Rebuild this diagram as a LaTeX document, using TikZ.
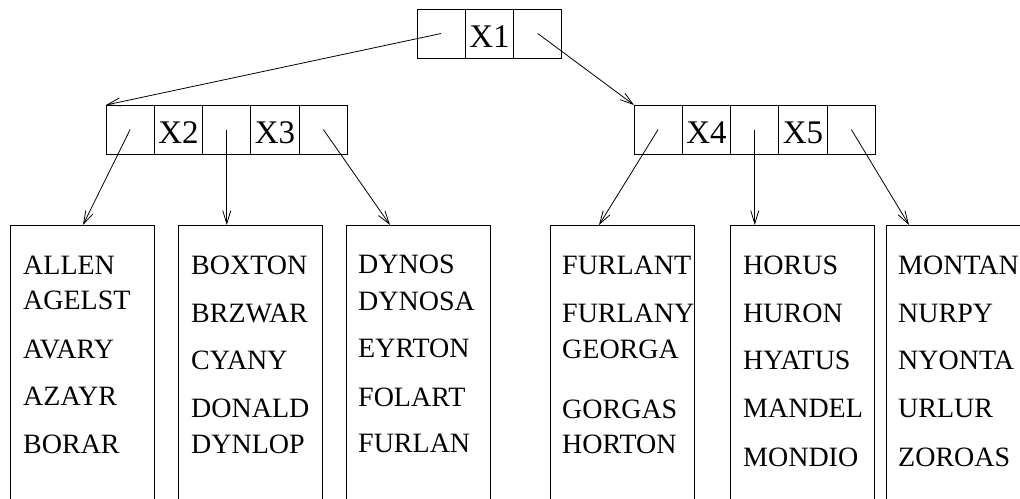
\documentclass[tikz,border=0pt]{standalone}
\usepackage{fontspec}
\setmainfont{Liberation Serif}
\usetikzlibrary{arrows.meta,calc}
\begin{document}
\begin{tikzpicture}[x=1pt,y=-1pt,
  cell/.style={draw,line width=0.9pt,minimum width=48.3pt,minimum height=49pt,
    inner sep=0pt,outer sep=0pt,anchor=north west,text height=27pt,text depth=0pt,
    font=\fontsize{33}{33}\selectfont},
  leaf/.style={draw,line width=0.9pt,minimum width=144pt,minimum height=300pt,
    inner sep=0pt,outer sep=0pt,anchor=north west},
  key/.style={anchor=base west,inner sep=0pt,font=\fontsize{28}{28}\selectfont},
  link/.style={line width=0.8pt,-{Straight Barb[length=13pt,width=8pt]}}]
\useasboundingbox (0,0) rectangle (1020,498);
\clip (0,0) rectangle (1020,498);

% root node
\node[cell] (t1) at (417,9) {};
\node[cell] (t2) at (465.3,9) {X1};
\node[cell] (t3) at (513.6,9) {};

% left inner node
\node[cell] (a1) at (106,105) {};
\node[cell] (a2) at (154.3,105) {X2};
\node[cell] (a3) at (202.6,105) {};
\node[cell] (a4) at (250.9,105) {X3};
\node[cell] (a5) at (299.2,105) {};

% right inner node
\node[cell] (b1) at (634,105) {};
\node[cell] (b2) at (682.3,105) {X4};
\node[cell] (b3) at (730.6,105) {};
\node[cell] (b4) at (778.9,105) {X5};
\node[cell] (b5) at (827.2,105) {};

% leaves
\node[leaf] (l1) at (10,225) {};
\node[leaf] (l2) at (178,225) {};
\node[leaf] (l3) at (346,225) {};
\node[leaf] (l4) at (550,225) {};
\node[leaf] (l5) at (730,225) {};
\node[leaf] (l6) at (886,225) {};

% keys in the leaves
\node[key] (k11) at (23,274) {ALLEN};
\node[key] (k12) at (23,309) {AGELST};
\node[key] (k13) at (23,358) {AVARY};
\node[key] (k14) at (23,405) {AZAYR};
\node[key] (k15) at (23,453) {BORAR};

\node[key] (k21) at (191,274) {BOXTON};
\node[key] (k22) at (191,322) {BRZWAR};
\node[key] (k23) at (191,369) {CYANY};
\node[key] (k24) at (191,417) {DONALD};
\node[key] (k25) at (191,453) {DYNLOP};

\node[key] (k31) at (358,273) {DYNOS};
\node[key] (k32) at (358,310) {DYNOSA};
\node[key] (k33) at (358,357) {EYRTON};
\node[key] (k34) at (358,406) {FOLART};
\node[key] (k35) at (358,452) {FURLAN};

\node[key] (k41) at (562,274) {FURLANT};
\node[key] (k42) at (562,322) {FURLANY};
\node[key] (k43) at (562,358) {GEORGA};
\node[key] (k44) at (562,418) {GORGAS};
\node[key] (k45) at (562,453) {HORTON};

\node[key] (k51) at (743,274) {HORUS};
\node[key] (k52) at (743,322) {HURON};
\node[key] (k53) at (743,369) {HYATUS};
\node[key] (k54) at (743,417) {MANDEL};
\node[key] (k55) at (743,466) {MONDIO};

\node[key] (k61) at (898,274) {MONTAN};
\node[key] (k62) at (898,322) {NURPY};
\node[key] (k63) at (898,369) {NYONTA};
\node[key] (k64) at (898,417) {URLUR};
\node[key] (k65) at (898,466) {ZOROAS};

% pointers
\draw[link] (t1.center) -- (a1.north west);
\draw[link] (t3.center) -- (b1.north west);

\draw[link] (a1.center) -- ($(l1.north west)+(73,0)$);
\draw[link] (a3.center) -- (a3.center |- l2.north);
\draw[link] (a5.center) -- ($(l3.north west)+(44,0)$);

\draw[link] (b1.center) -- ($(l4.north west)+(49,0)$);
\draw[link] (b3.center) -- (b3.center |- l5.north);
\draw[link] (b5.center) -- ($(l6.north west)+(23,0)$);
\end{tikzpicture}
\end{document}
